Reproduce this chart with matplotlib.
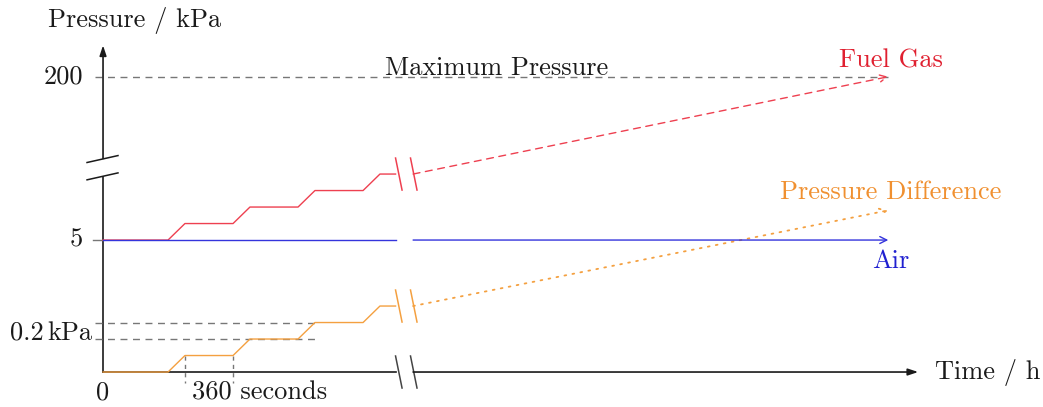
import matplotlib.pyplot as plt

# schematic units: x = one step period, y = one step height
step_t = [0, 1, 1.26, 2, 2.26, 3, 3.26, 4, 4.26, 4.5]
diff_steps = [0, 0, 1, 1, 2, 2, 3, 3, 4, 4]
fuel_steps = [8, 8, 9, 9, 10, 10, 11, 11, 12, 12]
air_level = 8
max_level = 17.9
resume_t = 4.77
end_t = 12.08
fuel_end = 17.9
diff_end = 9.8
hold_ticks = [1.26, 2.0]
kpa_levels = [2, 3]

RED = '#ee4050'
ORANGE = '#f4a040'
BLUE = '#3434dc'
GRAY = '#777777'
INK = '#1a1a1a'
FONT = 'cmr10'

fig = plt.figure(figsize=(10.43, 4.07), dpi=100)
ax = fig.add_axes([0, 0, 1, 1])
ax.set_xlim(-1.585, 14.46)
ax.set_ylim(-2.12, 22.55)
ax.axis('off')

dash = (0, (5, 4))

# axes
ax.plot([0, 0], [0, 11.85], color=INK, lw=1.2)
ax.annotate('', xy=(0, 19.8), xytext=(0, 12.95),
            arrowprops=dict(arrowstyle='-|>,head_length=0.6,head_width=0.2',
                            color=INK, lw=1.2, shrinkA=0, shrinkB=0))
ax.plot([0, step_t[-1]], [0, 0], color=INK, lw=1.2)
ax.annotate('', xy=(12.54, 0), xytext=(resume_t, 0),
            arrowprops=dict(arrowstyle='-|>,head_length=0.6,head_width=0.2',
                            color=INK, lw=1.2, shrinkA=0, shrinkB=0))

# y axis break
for yb in [11.65, 12.7]:
    ax.plot([-0.246, 0.23], [yb, yb + 0.42], color=INK, lw=1.1)

# break marks on the x direction
def break_marks(y, color):
    for xb in [4.55, 4.78]:
        ax.plot([xb - 0.05, xb + 0.05], [y + 0.97, y - 0.97], color=color, lw=1.1)

break_marks(0, '#444444')
break_marks(diff_steps[-1], ORANGE)
break_marks(fuel_steps[-1], RED)

# reference lines
ax.plot([-0.12, end_t], [max_level, max_level], color=GRAY, lw=1, ls=dash)
ax.plot([-0.15, 0], [air_level, air_level], color=GRAY, lw=1)
for lv in kpa_levels:
    ax.plot([-0.12, 3.3], [lv, lv], color=GRAY, lw=1, ls=dash)
for xt in hold_ticks:
    ax.plot([xt, xt], [1, -0.67], color=GRAY, lw=1, ls=(0, (3, 3)))

# series
ax.plot(step_t, fuel_steps, color=RED, lw=1)
ax.plot(step_t, diff_steps, color=ORANGE, lw=1)
ax.plot([0, step_t[-1]], [air_level, air_level], color=BLUE, lw=1)

arrow = '->,head_length=0.5,head_width=0.25'
ax.annotate('', xy=(end_t, fuel_end), xytext=(resume_t, fuel_steps[-1]),
            arrowprops=dict(arrowstyle=arrow, color=RED, lw=1, ls=dash,
                            shrinkA=0, shrinkB=0))
ax.annotate('', xy=(end_t, diff_end), xytext=(resume_t, diff_steps[-1]),
            arrowprops=dict(arrowstyle=arrow, color=ORANGE, lw=1.3,
                            ls=(0, (1, 3.5)), shrinkA=0, shrinkB=0))
ax.annotate('', xy=(end_t, air_level), xytext=(resume_t, air_level),
            arrowprops=dict(arrowstyle=arrow, color=BLUE, lw=1,
                            shrinkA=0, shrinkB=0))

# text
fs = 19
ax.text(-0.85, 21.3, 'Pressure / kPa', fontsize=fs, family=FONT, va='center', color=INK)
ax.text(12.8, 0, 'Time / h', fontsize=fs, family=FONT, va='center', color=INK)
ax.text(-0.31, max_level, '200', fontsize=fs, family=FONT, va='center', ha='right', color=INK)
ax.text(-0.31, air_level, '5', fontsize=fs, family=FONT, va='center', ha='right', color=INK)
ax.text(-0.905, 2.36, '0.2', fontsize=fs, family=FONT, va='center', ha='right', color=INK)
ax.text(-0.86, 2.36, 'kPa', fontsize=fs, family=FONT, va='center', ha='left', color=INK)
ax.text(0, -1.27, '0', fontsize=fs, family=FONT, va='center', ha='center', color=INK)
ax.text(1.37, -1.27, '360 seconds', fontsize=fs, family=FONT, va='center', color=INK)
ax.text(6.06, max_level + 0.1, 'Maximum Pressure', fontsize=fs, family=FONT,
        va='baseline', ha='center', color=INK)
ax.text(12.12, 18.9, 'Fuel Gas', fontsize=fs, family=FONT, va='center', ha='center', color='#e02030')
ax.text(12.12, 10.9, 'Pressure Difference', fontsize=fs, family=FONT, va='center', ha='center', color='#f09030')
ax.text(12.12, 6.7, 'Air', fontsize=fs, family=FONT, va='center', ha='center', color='#2020d0')

fig.savefig('out.png', dpi=100)
